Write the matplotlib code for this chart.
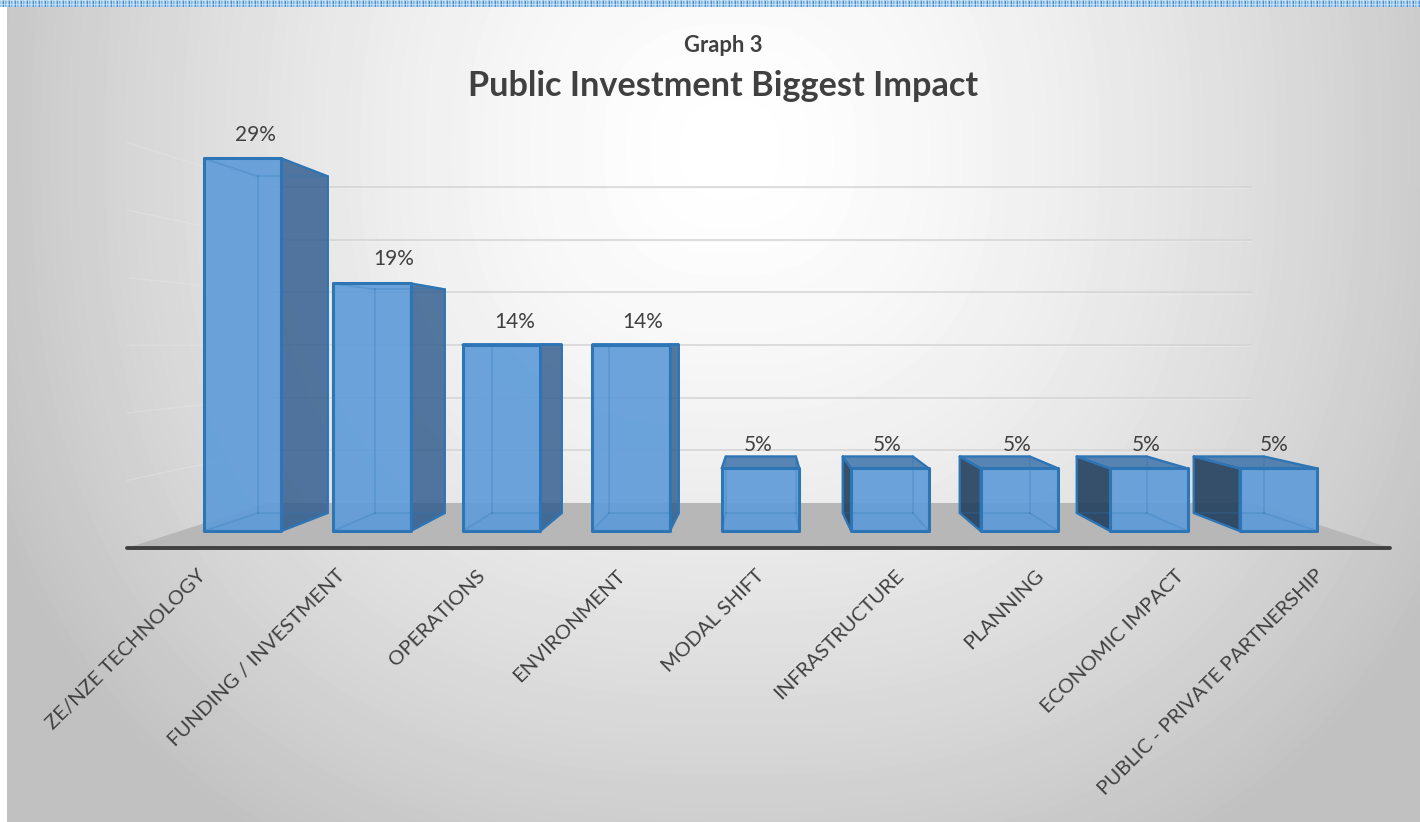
# Graph 3 - Public Investment Biggest Impact (3D style column chart)
import numpy as np
import matplotlib
matplotlib.use("Agg")
import matplotlib.pyplot as plt
from matplotlib.patches import Polygon

plt.rcParams['font.family'] = ['Lato', 'DejaVu Sans']

categories = ["ZE/NZE TECHNOLOGY", "FUNDING / INVESTMENT", "OPERATIONS", "ENVIRONMENT",
              "MODAL SHIFT", "INFRASTRUCTURE", "PLANNING", "ECONOMIC IMPACT",
              "PUBLIC - PRIVATE PARTNERSHIP"]
values = [28.6, 19.0, 14.3, 14.3, 4.8, 4.8, 4.8, 4.8, 4.8]
value_labels = ["29%", "19%", "14%", "14%", "5%", "5%", "5%", "5%", "5%"]
grid_ticks = [0, 5, 10, 15, 20, 25, 30]

# figure pixels <-> data: one category = 129.5 px, one percent = 13.03 px
W, H = 1420, 822
PX_X, PX_Y = 129.5, 13.03
X0, Y0 = 242.5, 531
BAR_W = 0.6

# perspective of the fake 3D box, vanishing point in data coords
VX, VY = 4.02, 14.31
BAR_DEPTH = 0.0965
FLOOR_Y = -1.3       # front edge of the floor
WALL_DEPTH = 0.221
FLOOR_L, FLOOR_R = -0.89, 8.86
WALL_ZERO, WALL_SCALE = 2.15, 0.808

C_EDGE = "#2e75b6"


def back(x, y, k=BAR_DEPTH):
    return x + (VX - x) * k, y + (VY - y) * k


def face(ax, pts, color, alpha, z, ec=C_EDGE, lw=1.6):
    # facecolor gets the alpha, edge stays solid
    fc = matplotlib.colors.to_rgba(color, alpha)
    ax.add_patch(Polygon(pts, closed=True, facecolor=fc, edgecolor=ec, linewidth=lw,
                         joinstyle="round", zorder=z))


fig = plt.figure(figsize=(W / 100, H / 100), dpi=100, facecolor="white")
ax = fig.add_axes([0, 0, 1, 1])
ax.axis("off")

# background gradient, starts 7 px in from left and top
yy, xx = np.mgrid[0:H - 7, 0:W - 7]
d = (np.abs(xx + 7 - 730.0) ** 2.5 + np.abs(yy + 7 - 150.0) ** 2.5) ** 0.4
shade = np.clip(255 - 52 * (d / 700.0) ** 1.5, 193, 255) / 255.0
ax.imshow(shade, cmap="gray", vmin=0, vmax=1, aspect="auto", zorder=0,
          extent=[(7 - X0) / PX_X, (W - X0) / PX_X, -(H - Y0) / PX_Y, (Y0 - 7) / PX_Y],
          interpolation="bilinear")

# checked stripe along the top
tile = np.array([[0.62, 0.78, 0.91], [0.74, 0.85, 0.94], [0.56, 0.74, 0.90],
                 [0.30, 0.57, 0.82], [0.72, 0.84, 0.94], [0.50, 0.71, 0.88]])
stripe = np.zeros((7, W, 3))
for r in range(7):
    for c in range(W):
        base = tile[c % 6]
        stripe[r, c] = base if r % 4 else 1 - (1 - base) * 0.6
ax.imshow(stripe, aspect="auto", zorder=0.5, interpolation="nearest",
          extent=[-X0 / PX_X, (W - X0) / PX_X, (Y0 - 7) / PX_Y, Y0 / PX_Y])
ax.set_xlim(-X0 / PX_X, (W - X0) / PX_X)
ax.set_ylim(-(H - Y0) / PX_Y, Y0 / PX_Y)

# wall gridlines: back wall plus the left side wall
wall_left = back(FLOOR_L, FLOOR_Y, WALL_DEPTH)[0]
wall_right = back(FLOOR_R, FLOOR_Y, WALL_DEPTH)[0]
for tick in grid_ticks[1:]:
    gy = WALL_ZERO + WALL_SCALE * tick
    ax.plot([wall_left, wall_right], [gy, gy], color="#d4d4d4", lw=1.3, alpha=0.85, zorder=1)
    ax.plot([wall_left, wall_right], [gy - 0.1, gy - 0.1], color="#f4f4f4", lw=0.6, alpha=0.4, zorder=1)
    # slope towards the vanishing point
    sx = FLOOR_L
    sy = gy + (sx - wall_left) * (VY - gy) / (VX - wall_left)
    ax.plot([sx, wall_left], [sy, gy], color="#e8e8e8", lw=0.9, alpha=0.4, zorder=1)

# floor
bl = back(FLOOR_L, FLOOR_Y, WALL_DEPTH)
br = back(FLOOR_R, FLOOR_Y, WALL_DEPTH)
ax.add_patch(Polygon([(FLOOR_L, FLOOR_Y), (FLOOR_R, FLOOR_Y), br, bl], closed=True,
                     facecolor="#b7b7b7", edgecolor="none", zorder=1.5))
ax.plot([FLOOR_L, FLOOR_R], [FLOOR_Y, FLOOR_Y], color="#404040", lw=2.8,
        solid_capstyle="round", zorder=1.6)

# bars
for i, v in enumerate(values):
    l, r = i - BAR_W / 2, i + BAR_W / 2
    fbl, fbr, ftr, ftl = (l, 0), (r, 0), (r, v), (l, v)
    bbl, bbr, btr, btl = back(*fbl), back(*fbr), back(*ftr), back(*ftl)
    z = 2 + i * 0.01

    # floor of the box, seen through the front
    face(ax, [fbl, fbr, bbr, bbl], "#5b9bd5", 0.25, z, ec="none", lw=0)
    # side face: right side left of the vanishing point, left side after it
    if r < VX:
        face(ax, [fbr, ftr, btr, bbr], "#2f5b8d", 0.82, z + 0.001)
    elif l > VX:
        face(ax, [fbl, ftl, btl, bbl], "#23405e", 0.90, z + 0.001)
    # top face only shows dark when the bar stays under eye level
    if v < VY:
        face(ax, [ftl, ftr, btr, btl], "#376ea6", 0.82, z + 0.002)
    # front
    face(ax, [fbl, fbr, ftr, ftl], "#5f9cd8", 0.92, z + 0.003, lw=2.2)
    # hidden edges, shows through
    for a, b in [(fbl, bbl), (fbr, bbr), (ftl, btl), (ftr, btr), (bbl, bbr),
                 (bbl, btl), (bbr, btr), (btl, btr)]:
        ax.plot([a[0], b[0]], [a[1], b[1]], color=C_EDGE, lw=1.3, alpha=0.25, zorder=z + 0.004)

# value labels
label_dx = [0.10, 0.17, 0.10, 0.09, -0.02, -0.02, -0.02, -0.02, -0.03]
label_dy = [1.8, 1.85, 1.75, 1.75, 0.85, 0.85, 0.85, 0.85, 0.85]
for i, v in enumerate(values):
    top = max(v, back(i, v)[1])
    ax.text(i + label_dx[i], top + label_dy[i], value_labels[i], ha="center", va="center",
            fontsize=15, color="#404040", zorder=5)

# category labels, spread a bit wider than the bars (front edge of floor)
for i, name in enumerate(categories):
    ax.text(-0.355 + 1.079 * i, -2.75, name, rotation=45, ha="right", va="top",
            rotation_mode="anchor", fontsize=14.7, color="#404040", zorder=5)

# titles
tx = 723
fig.text(tx / W, 1 - 46 / H, "Graph 3", ha="center", va="center", fontsize=15.8,
         fontweight="bold", color="#404040")
fig.text(tx / W, 1 - 86 / H, "Public Investment Biggest Impact", ha="center", va="center",
         fontsize=24.7, fontweight="bold", color="#404040")

fig.savefig("out.png", dpi=100)
